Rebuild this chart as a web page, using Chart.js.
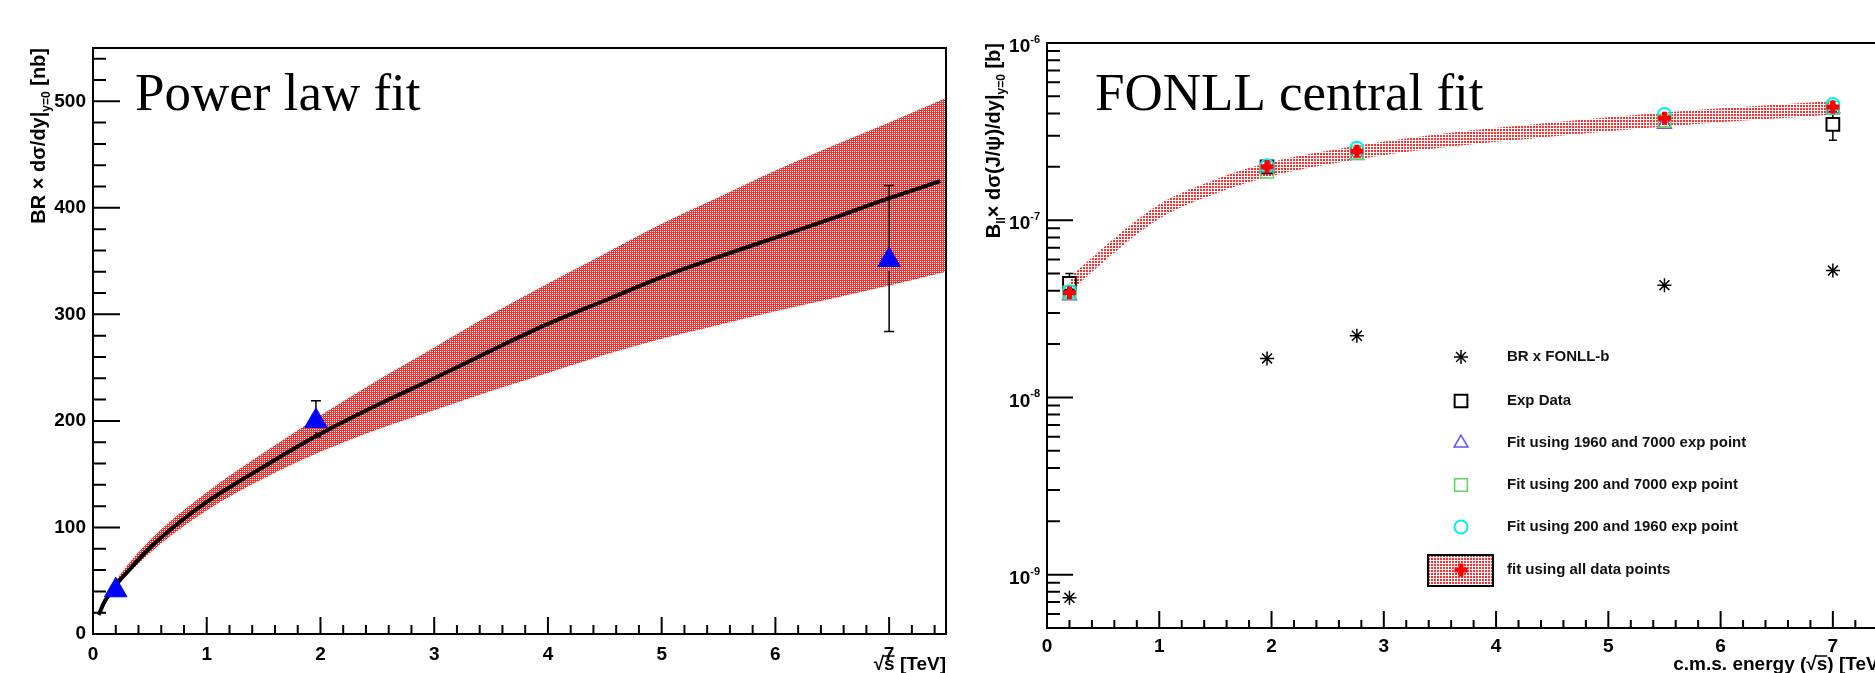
<!DOCTYPE html>
<html>
<head>
<meta charset="utf-8">
<script src="https://cdn.jsdelivr.net/npm/chart.js@4.4.1/dist/chart.umd.min.js"></script>
<style>
  html, body { margin:0; padding:0; background:#fff; width:1875px; height:673px; overflow:hidden; position:relative; }
  canvas { position:absolute; top:0; }
  #left { left:0; }
  #right { left:960px; }
</style>
</head>
<body>
<canvas id="left" width="960" height="673"></canvas>
<canvas id="right" width="960" height="673"></canvas>
<script>
// ---- left panel: power law fit (nb) ----
var fitX   = [0.05,0.1,0.2,0.3,0.5,0.75,1.0,1.25,1.5,1.75,2.0,2.5,3.0,3.5,4.0,4.5,5.0,5.5,6.0,6.5,7.0,7.45];
var fitY   = [18,30,46,58,81,104,124,141,157,173,188,215,240,266,291,313,335,354,372,390,409,425];
var bandX  = [0.1,0.2,0.5,1,1.5,2,2.5,3,3.5,4,4.5,5,5.5,6,6.5,7,7.5];
var bandHi = [32,50,88,133,170,205,238,269,300,329,357,385,410,435,458,480,503];
var bandLo = [28,43,76,116,146,171,192,210,228,245,262,277,290,303,315,327,340];
var dataX  = [0.2, 1.96, 7.0];
var dataY  = [41, 200, 351];
var dataLo = [null, 185, 284];
var dataHi = [null, 219, 421];
var leftXTicks = [0,1,2,3,4,5,6,7];
var leftYTicks = [0,100,200,300,400,500];

// ---- right panel: FONLL central fit (b) ----
var energies    = [0.2, 1.96, 2.76, 5.5, 7.0];
var brFonll     = [7.4e-10, 1.66e-8, 2.23e-8, 4.3e-8, 5.2e-8];
var expX        = [0.2, 1.96, 7.0];
var expY        = [4.4e-8, 2.0e-7, 3.47e-7];
var expLo       = [3.9e-8, 1.9e-7, 2.83e-7];
var expHi       = [5.0e-8, 2.1e-7, 4.1e-7];
var fit1960_7000 = [3.75e-8, 1.97e-7, 2.32e-7, 3.48e-7, 4.25e-7];
var fit200_7000  = [3.9e-8, 1.88e-7, 2.4e-7, 3.65e-7, 4.3e-7];
var fit200_1960  = [3.95e-8, 2.03e-7, 2.55e-7, 3.95e-7, 4.5e-7];
var fitAll       = [3.9e-8, 2.0e-7, 2.45e-7, 3.76e-7, 4.35e-7];
var fonllX  = [0.2,0.5,1,1.5,1.96,2.76,3.5,4.5,5.5,7.0];
var fonllLo = [3.9e-8,5.8e-8,1.02e-7,1.41e-7,1.75e-7,2.2e-7,2.56e-7,2.97e-7,3.38e-7,3.95e-7];
var fonllHi = [4.75e-8,7.0e-8,1.23e-7,1.7e-7,2.1e-7,2.63e-7,3.07e-7,3.56e-7,4.05e-7,4.7e-7];
var rightXTicks = [0,1,2,3,4,5,6,7];
var rightYDecades = [-9,-8,-7,-6];
var legendLabels = ['BR x FONLL-b','Exp Data','Fit using 1960 and 7000 exp point',
                    'Fit using 200 and 7000 exp point','Fit using 200 and 1960 exp point',
                    'fit using all data points'];

var SANS = '"Liberation Sans", Arial, Helvetica, sans-serif';
var tickFont = { family: SANS, size: 19, weight: 'bold' };

function pts(xs, ys) {
  var out = [];
  for (var i = 0; i < xs.length; i++) out.push({ x: xs[i], y: ys[i] });
  return out;
}

// small bitmap patterns like the ROOT fill styles
function makePattern(w, h, cells, color) {
  var c = document.createElement('canvas');
  c.width = w; c.height = h;
  var g = c.getContext('2d');
  g.fillStyle = '#fff'; g.fillRect(0, 0, w, h);
  g.fillStyle = color;
  cells.forEach(function (p) { g.fillRect(p[0], p[1], 1, 1); });
  return g.createPattern(c, 'repeat');
}
var hatch = makePattern(2, 2, [[0,0],[1,0],[1,1]], '#ff2a2a');
var dots  = makePattern(3, 3, [[0,0],[1,0],[0,1],[1,1]], '#ff3030');

// text made of pieces: [text, size, dy]
function drawParts(ctx, parts, xEnd, yBase) {
  var total = 0, ws = [];
  parts.forEach(function (p) {
    ctx.font = 'bold ' + p[1] + 'px ' + SANS;
    var w = ctx.measureText(p[0]).width; ws.push(w); total += w;
  });
  var x = xEnd - total;
  ctx.textAlign = 'left'; ctx.textBaseline = 'alphabetic';
  parts.forEach(function (p, i) {
    ctx.font = 'bold ' + p[1] + 'px ' + SANS;
    ctx.fillText(p[0], x, yBase + p[2]);
    x += ws[i];
  });
}

// error bars that stop at the marker edge
function errorBars(chart, xs, ys, lo, hi, gap, cap) {
  var ctx = chart.ctx, sx = chart.scales.x, sy = chart.scales.y;
  ctx.save();
  ctx.strokeStyle = '#000'; ctx.lineWidth = 1.5;
  ctx.beginPath();
  for (var i = 0; i < xs.length; i++) {
    if (lo[i] == null) continue;
    var px = sx.getPixelForValue(xs[i]), pc = sy.getPixelForValue(ys[i]);
    var ph = sy.getPixelForValue(hi[i]), pl = sy.getPixelForValue(lo[i]);
    if (ph < pc - gap) { ctx.moveTo(px, pc - gap); ctx.lineTo(px, ph); ctx.moveTo(px - cap, ph); ctx.lineTo(px + cap, ph); }
    if (pl > pc + gap) { ctx.moveTo(px, pc + gap); ctx.lineTo(px, pl); ctx.moveTo(px - cap, pl); ctx.lineTo(px + cap, pl); }
  }
  ctx.stroke();
  ctx.restore();
}

// frame and inward ticks, ROOT style
function drawFrame(chart, xMajor, xMinor, yMajor, yMinor, len) {
  var ctx = chart.ctx, a = chart.chartArea, sx = chart.scales.x, sy = chart.scales.y;
  ctx.save();
  ctx.strokeStyle = '#000'; ctx.lineWidth = 2;
  ctx.strokeRect(a.left, a.top, a.right - a.left, a.bottom - a.top);
  ctx.beginPath();
  xMajor.forEach(function (v) { var p = sx.getPixelForValue(v); ctx.moveTo(p, a.bottom); ctx.lineTo(p, a.bottom - len[0]); });
  xMinor.forEach(function (v) { var p = sx.getPixelForValue(v); ctx.moveTo(p, a.bottom); ctx.lineTo(p, a.bottom - len[1]); });
  yMajor.forEach(function (v) { var p = sy.getPixelForValue(v); ctx.moveTo(a.left, p); ctx.lineTo(a.left + len[2], p); });
  yMinor.forEach(function (v) { var p = sy.getPixelForValue(v); if (p > a.top + 1 && p < a.bottom) { ctx.moveTo(a.left, p); ctx.lineTo(a.left + len[3], p); } });
  ctx.stroke();
  ctx.restore();
}

function minorsLinear(from, to, step, majors) {
  var out = [];
  for (var v = from; v <= to + 1e-9; v += step) {
    var r = Math.round(v * 1000) / 1000;
    if (majors.indexOf(r) < 0) out.push(r);
  }
  return out;
}

// ================= left chart =================
var leftDecor = {
  id: 'leftDecor',
  afterDatasetDraw: function (chart, args) {
    if (args.index === 2) errorBars(chart, dataX, dataY, dataLo, dataHi, 11, 5);
  },
  afterDraw: function (chart) {
    var ctx = chart.ctx, a = chart.chartArea;
    drawFrame(chart, leftXTicks, minorsLinear(0, 7.4, 0.2, leftXTicks),
              leftYTicks, minorsLinear(0, 540, 20, leftYTicks), [17, 9, 27, 13]);
    ctx.save();
    ctx.fillStyle = '#000';
    ctx.font = '53px "Liberation Serif", "Times New Roman", serif';
    ctx.textAlign = 'left'; ctx.textBaseline = 'alphabetic';
    ctx.fillText('Power law fit', 135, 110);
    // y title
    ctx.save();
    ctx.translate(45, a.top);
    ctx.rotate(-Math.PI / 2);
    drawParts(ctx, [['BR \u00d7 d\u03c3/dy|', 20, 0], ['y=0', 12, 5], [' [nb]', 20, 0]], 0, 0);
    ctx.restore();
    // x title
    ctx.font = 'bold 19px ' + SANS;
    ctx.textAlign = 'right'; ctx.textBaseline = 'top';
    var t = '\u221as [TeV]';
    ctx.fillText(t, a.right, 655);
    var x0 = a.right - ctx.measureText(t).width;
    var w1 = ctx.measureText('\u221a').width, w2 = ctx.measureText('\u221as').width;
    ctx.strokeStyle = '#000'; ctx.lineWidth = 1.5;
    ctx.beginPath(); ctx.moveTo(x0 + w1 - 1, 656); ctx.lineTo(x0 + w2, 656); ctx.stroke();
    ctx.restore();
  }
};

new Chart(document.getElementById('left'), {
  type: 'scatter',
  data: {
    datasets: [
      { label: 'data', data: pts(dataX, dataY), pointStyle: 'triangle', pointRadius: 13,
        backgroundColor: '#0000ff', borderColor: '#0000ff', borderWidth: 1, order: 1 },
      { label: 'fit', data: pts(fitX, fitY), showLine: true, borderColor: '#000', borderWidth: 4,
        pointRadius: 0, cubicInterpolationMode: 'monotone', order: 2 },
      { label: 'bandHi', data: pts(bandX, bandHi), showLine: true, borderColor: 'rgba(0,0,0,0)',
        borderWidth: 1, pointRadius: 0, fill: '+1', backgroundColor: hatch,
        cubicInterpolationMode: 'monotone', order: 3 },
      { label: 'bandLo', data: pts(bandX, bandLo), showLine: true, borderColor: 'rgba(0,0,0,0)',
        borderWidth: 1, pointRadius: 0, fill: false, cubicInterpolationMode: 'monotone', order: 4 }
    ]
  },
  options: {
    responsive: false, animation: false, events: [],
    layout: { padding: { left: 0, top: 48, right: 12, bottom: 0 } },
    plugins: { legend: { display: false }, tooltip: { enabled: false } },
    scales: {
      x: { type: 'linear', min: 0, max: 7.5,
           grid: { display: false, drawTicks: false }, border: { display: false },
           ticks: { font: tickFont, color: '#000', padding: 9, maxRotation: 0, autoSkip: false },
           afterBuildTicks: function (s) { s.ticks = leftXTicks.map(function (v) { return { value: v }; }); },
           afterFit: function (s) { s.height = 39; } },
      y: { type: 'linear', min: 0, max: 550,
           grid: { display: false, drawTicks: false }, border: { display: false },
           ticks: { font: tickFont, color: '#000', padding: 7, autoSkip: false },
           afterBuildTicks: function (s) { s.ticks = leftYTicks.map(function (v) { return { value: v }; }); },
           afterFit: function (s) { s.width = 93; } }
    }
  },
  plugins: [leftDecor]
});

// ================= right chart =================
var markerStyles = [
  { pointStyle: 'star', radius: 7, borderWidth: 1.5, stroke: '#000', fill: 'rgba(0,0,0,0)' },
  { pointStyle: 'rect', radius: 9, borderWidth: 2, stroke: '#000', fill: 'rgba(0,0,0,0)' },
  { pointStyle: 'triangle', radius: 8, borderWidth: 1.5, stroke: '#5a5af0', fill: 'rgba(0,0,0,0)' },
  { pointStyle: 'rect', radius: 9, borderWidth: 1.5, stroke: '#5fd35f', fill: 'rgba(0,0,0,0)' },
  { pointStyle: 'circle', radius: 6.5, borderWidth: 2, stroke: '#00f0f0', fill: 'rgba(0,0,0,0)' },
  { pointStyle: 'cross', radius: 6.5, borderWidth: 5, stroke: '#ff0000', fill: 'rgba(0,0,0,0)' }
];

function markerSet(label, xs, ys, m, order) {
  return { label: label, data: pts(xs, ys), pointStyle: m.pointStyle, pointRadius: m.radius,
           borderColor: m.stroke, backgroundColor: m.fill, borderWidth: m.borderWidth, order: order };
}

var rightMinorY = [];
[-10, -9, -8, -7].forEach(function (d) {
  for (var m = 2; m <= 9; m++) rightMinorY.push(m * Math.pow(10, d));
});

var rightDecor = {
  id: 'rightDecor',
  afterDatasetDraw: function (chart, args) {
    if (args.index === 6) errorBars(chart, expX, expY, expLo, expHi, 6.5, 4);
  },
  afterDraw: function (chart) {
    var ctx = chart.ctx, a = chart.chartArea, sy = chart.scales.y;
    drawFrame(chart, rightXTicks, minorsLinear(0, 7.4, 0.2, rightXTicks),
              rightYDecades.map(function (d) { return Math.pow(10, d); }), rightMinorY, [17, 8, 26, 13]);
    ctx.save();
    ctx.fillStyle = '#000';
    // decade labels 10^n
    rightYDecades.forEach(function (d) {
      var p = sy.getPixelForValue(Math.pow(10, d));
      ctx.font = 'bold 11px ' + SANS;
      var sup = '-' + Math.abs(d);
      var ws = ctx.measureText(sup).width;
      ctx.textAlign = 'right'; ctx.textBaseline = 'alphabetic';
      ctx.fillText(sup, a.left - 7, p);
      ctx.font = 'bold 19px ' + SANS;
      ctx.textBaseline = 'middle';
      ctx.fillText('10', a.left - 7 - ws, p + 4);
    });
    ctx.font = '53px "Liberation Serif", "Times New Roman", serif';
    ctx.textAlign = 'left'; ctx.textBaseline = 'alphabetic';
    ctx.fillText('FONLL central fit', 135, 110);
    // y title
    ctx.save();
    ctx.translate(40, a.top);
    ctx.rotate(-Math.PI / 2);
    drawParts(ctx, [['B', 20, 0], ['ll', 12, 5], ['\u00d7 d\u03c3(J/\u03c8)/dy|', 20, 0], ['y=0', 12, 5], [' [b]', 20, 0]], 0, 0);
    ctx.restore();
    // x title
    ctx.font = 'bold 19px ' + SANS;
    ctx.textAlign = 'right'; ctx.textBaseline = 'top';
    var t = 'c.m.s. energy (\u221as) [TeV]';
    ctx.fillText(t, a.right - 4, 655);
    var x0 = a.right - 4 - ctx.measureText(t).width;
    var w1 = ctx.measureText('c.m.s. energy (\u221a').width, w2 = ctx.measureText('c.m.s. energy (\u221as').width;
    ctx.strokeStyle = '#000'; ctx.lineWidth = 1.5;
    ctx.beginPath(); ctx.moveTo(x0 + w1 - 1, 656); ctx.lineTo(x0 + w2, 656); ctx.stroke();
    // legend
    var rows = [357, 401, 443, 485, 527, 570];
    var mx = 1461 - 960, tx = 1507 - 960;
    rows.forEach(function (ry, i) {
      var m = markerStyles[i];
      if (i === 5) {
        ctx.fillStyle = dots;
        ctx.fillRect(468, ry - 15, 65, 31);
        ctx.strokeStyle = '#000'; ctx.lineWidth = 2;
        ctx.strokeRect(468, ry - 15, 65, 31);
      }
      ctx.strokeStyle = m.stroke; ctx.fillStyle = m.fill; ctx.lineWidth = m.borderWidth;
      Chart.helpers.drawPoint(ctx, { pointStyle: m.pointStyle, radius: m.radius, rotation: 0, borderWidth: m.borderWidth }, mx, ry);
      ctx.fillStyle = '#111';
      ctx.font = 'bold 15px ' + SANS;
      ctx.textAlign = 'left'; ctx.textBaseline = 'middle';
      ctx.fillText(legendLabels[i], tx, ry);
    });
    ctx.restore();
  }
};

new Chart(document.getElementById('right'), {
  type: 'scatter',
  data: {
    datasets: [
      markerSet(legendLabels[5], energies, fitAll, markerStyles[5], 1),
      markerSet(legendLabels[4], energies, fit200_1960, markerStyles[4], 2),
      markerSet(legendLabels[3], energies, fit200_7000, markerStyles[3], 3),
      markerSet(legendLabels[2], energies, fit1960_7000, markerStyles[2], 4),
      markerSet(legendLabels[1], expX, expY, markerStyles[1], 5),
      markerSet(legendLabels[0], energies, brFonll, markerStyles[0], 6),
      { label: 'fonllHi', data: pts(fonllX, fonllHi), showLine: true, borderColor: 'rgba(0,0,0,0)',
        borderWidth: 1, pointRadius: 0, fill: '+1', backgroundColor: dots,
        cubicInterpolationMode: 'monotone', order: 7 },
      { label: 'fonllLo', data: pts(fonllX, fonllLo), showLine: true, borderColor: 'rgba(0,0,0,0)',
        borderWidth: 1, pointRadius: 0, fill: false, cubicInterpolationMode: 'monotone', order: 8 }
    ]
  },
  options: {
    responsive: false, animation: false, events: [],
    layout: { padding: { left: 0, top: 43, right: 31, bottom: 0 } },
    plugins: { legend: { display: false }, tooltip: { enabled: false } },
    scales: {
      x: { type: 'linear', min: 0, max: 7.5,
           grid: { display: false, drawTicks: false }, border: { display: false },
           ticks: { font: tickFont, color: '#000', padding: 7, maxRotation: 0, autoSkip: false },
           afterBuildTicks: function (s) { s.ticks = rightXTicks.map(function (v) { return { value: v }; }); },
           afterFit: function (s) { s.height = 45; } },
      y: { type: 'logarithmic', min: 5e-10, max: 1e-6,
           grid: { display: false, drawTicks: false }, border: { display: false },
           ticks: { display: false },
           afterFit: function (s) { s.width = 87; } }
    }
  },
  plugins: [rightDecor]
});
</script>
</body>
</html>
